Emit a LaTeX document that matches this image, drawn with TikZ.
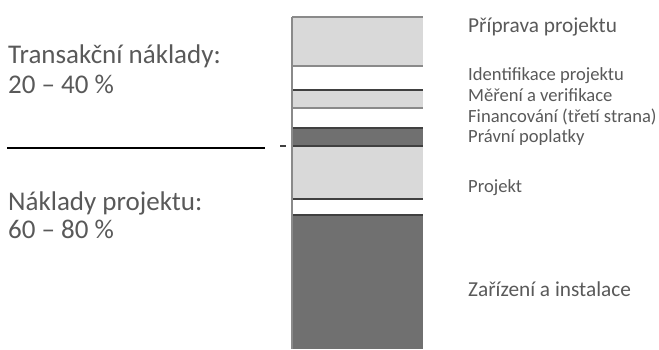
\documentclass[tikz,border=0pt]{standalone}
\usepackage{fontspec}
\setmainfont{Carlito}
\usetikzlibrary{positioning}
\definecolor{lightband}{HTML}{D9D9D9}
\definecolor{darkband}{HTML}{707070}
\definecolor{labelgray}{HTML}{595959}
\definecolor{edgegray}{HTML}{8A8A8A}

\begin{document}
\begin{tikzpicture}[x=1pt, y=-1pt,
		every node/.style={anchor=base west, inner sep=0pt, text=labelgray},
		share/.style={font=\fontsize{27}{30}\selectfont},
		item/.style={font=\fontsize{21.3}{22}\selectfont},
		subitem/.style={font=\fontsize{18.6}{20}\selectfont},
		edge/.style={draw=edgegray, line width=1.2pt},
		darkedge/.style={draw=black!75, line width=1.2pt},
		]
		\useasboundingbox (0,0) rectangle (659,349);
		
		% bar segments: top/bottom/fill
		\foreach \top/\bottom/\shade in {17/66/lightband, 66/90/white, 90/108/lightband, 108/128/white, 128/146/darkband, 146/199/lightband, 199/215/white, 215/349/darkband}
			\fill[\shade] (292,\top) rectangle (423,\bottom);
		\foreach \ypos in {17, 66, 108}
			\draw[edge] (292,\ypos) -- (423,\ypos);
		\foreach \ypos in {90, 128, 146, 199, 215}
			\draw[darkedge] (292,\ypos) -- (423,\ypos);
		\draw[edge] (292,17) -- (292,349);
		
		% divider
		\coordinate (divstart) at (7,148);
		\coordinate (divend) at (265,148);
		\coordinate (tickstart) at (280,146);
		\coordinate (tickend) at (286,146);
		\draw[line width=1.3pt] (divstart) -- (divend);
		\draw[darkedge] (tickstart) -- (tickend);
		
		% left labels
		\node[share] (trans) at (8,63) {Transakční náklady:};
		\node[share] (transval) at (8,93) {20 – 40 \%};
		\node[share] (proj) at (8,210) {Náklady projektu:};
		\node[share] (projval) at (8,238) {60 – 80 \%};
		
		% right labels
		\node[item] (prep) at (468,32) {Příprava projektu};
		\node[subitem] (ident) at (468,80) {Identifikace projektu};
		\node[subitem] (mv) at (468,101) {Měření a verifikace};
		\node[subitem] (fin) at (468,122) {Financování (třetí strana)};
		\node[subitem] (legal) at (468,142) {Právní poplatky};
		\node[subitem] (project) at (468,192) {Projekt};
		\node[item] (equip) at (468,296) {Zařízení a instalace};
	\end{tikzpicture}
\end{document}
